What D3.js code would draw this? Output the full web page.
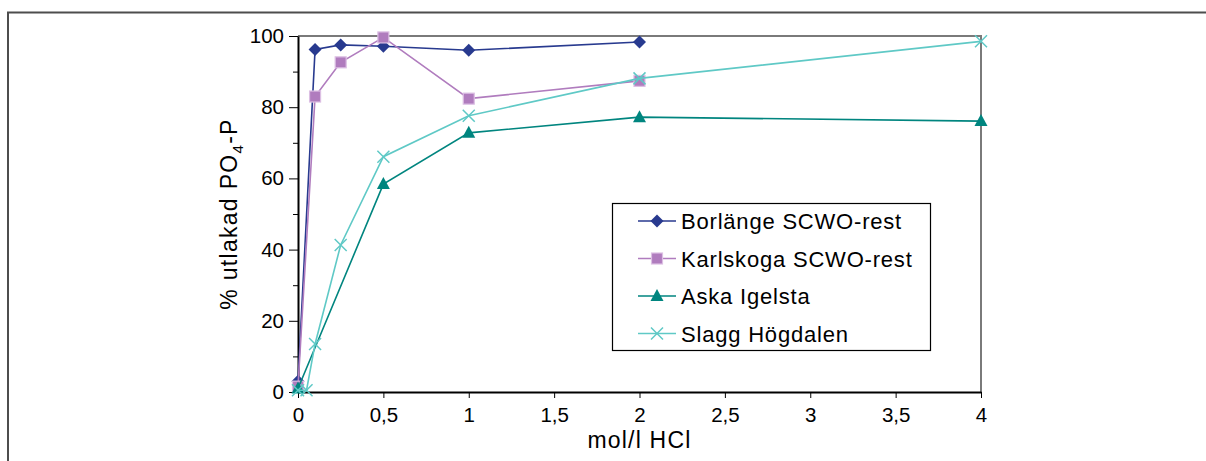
<!DOCTYPE html>
<html>
<head>
<meta charset="utf-8">
<script src="https://cdn.jsdelivr.net/npm/d3@7"></script>
<style>
  body { margin: 0; background: #fff; }
  svg { font-family: "Liberation Sans", Arial, sans-serif; }
</style>
</head>
<body>
<div id="chart"></div>
<script>
// data
var borlangeX = [0, 0.1, 0.25, 0.5, 1, 2];
var borlangeY = [3, 96.2, 97.5, 97.1, 96, 98.3];
var karlskogaX = [0, 0.1, 0.25, 0.5, 1, 2];
var karlskogaY = [1.5, 83, 92.6, 99.6, 82.4, 87.4];
var askaX = [0, 0.5, 1, 2, 4];
var askaY = [1, 58.4, 72.8, 77.2, 76.1];
var slaggX = [0, 0.05, 0.1, 0.25, 0.5, 1, 2, 4];
var slaggY = [0.5, 0.5, 13.5, 41.3, 66.1, 77.6, 88.1, 98.5];
var seriesNames = ["Borlänge SCWO-rest", "Karlskoga SCWO-rest", "Aska Igelsta", "Slagg Högdalen"];
var xTicks = [0, 0.5, 1, 1.5, 2, 2.5, 3, 3.5, 4];
var yTicks = [0, 20, 40, 60, 80, 100];

var W = 1206, H = 461;
var svg = d3.select("#chart").append("svg").attr("width", W).attr("height", H);

// outer frame
svg.append("rect")
  .attr("x", 8).attr("y", 12.5)
  .attr("width", 1400).attr("height", 1000)
  .attr("fill", "none").attr("stroke", "#4d4d4d").attr("stroke-width", 2);

var x = d3.scaleLinear().domain([0, 4]).range([298, 981]);
var y = d3.scaleLinear().domain([0, 100]).range([392, 36]);

// top and right frame of the plot
svg.append("path")
  .attr("d", "M" + x(0) + "," + y(100) + "H" + x(4) + "V" + y(0))
  .attr("fill", "none").attr("stroke", "#7a7a7a").attr("stroke-width", 2);

// y axis: major + minor ticks
svg.append("g")
  .attr("transform", "translate(" + x(0) + ",0)")
  .call(d3.axisLeft(y).tickValues(d3.range(10, 100, 20)).tickSize(5).tickFormat(""))
  .call(g => g.select(".domain").remove());
var yAxis = svg.append("g")
  .attr("transform", "translate(" + x(0) + ",0)")
  .call(d3.axisLeft(y).tickValues(yTicks).tickSize(9).tickSizeOuter(0).tickPadding(5));
yAxis.selectAll("text").style("font-size", "20.5px").attr("fill", "#000");
yAxis.select(".domain").attr("stroke-width", 2);

// x axis
var fmt = function(d) { return String(d).replace(".", ","); };
var xAxis = svg.append("g")
  .attr("transform", "translate(0," + y(0) + ")")
  .call(d3.axisBottom(x).tickValues(xTicks).tickSize(6).tickSizeOuter(0).tickFormat(fmt).tickPadding(9));
xAxis.selectAll("text").style("font-size", "20.5px").attr("fill", "#000");
xAxis.select(".domain").attr("stroke-width", 2);

// axis labels
svg.append("text")
  .attr("x", x(2)).attr("y", 448)
  .attr("text-anchor", "middle")
  .style("font-size", "23px")
  .style("letter-spacing", "1.2px")
  .text("mol/l HCl");

var yl = svg.append("text")
  .attr("transform", "translate(237," + y(50) + ") rotate(-90)")
  .attr("text-anchor", "middle")
  .style("font-size", "23px")
  .style("letter-spacing", "1.3px");
yl.append("tspan").text("% utlakad PO");
yl.append("tspan").attr("dy", 6).style("font-size", "15px").text("4");
yl.append("tspan").attr("dy", -6).text("-P");

// series
var series = [
  { name: seriesNames[0], xs: borlangeX, ys: borlangeY, color: "#283a8f", marker: "diamond" },
  { name: seriesNames[1], xs: karlskogaX, ys: karlskogaY, color: "#b07cbe", marker: "square" },
  { name: seriesNames[2], xs: askaX, ys: askaY, color: "#00857f", marker: "triangle" },
  { name: seriesNames[3], xs: slaggX, ys: slaggY, color: "#5fc9c6", marker: "cross" }
];

function drawMarker(g, s, cx, cy) {
  if (s.marker === "diamond") {
    g.append("path").attr("d", "M" + cx + "," + (cy - 6.5) + "L" + (cx + 6.5) + "," + cy + "L" + cx + "," + (cy + 6.5) + "L" + (cx - 6.5) + "," + cy + "Z")
      .attr("fill", s.color);
  } else if (s.marker === "square") {
    g.append("rect").attr("x", cx - 5.5).attr("y", cy - 5.5).attr("width", 11).attr("height", 11)
      .attr("fill", s.color).attr("stroke", "#dcbfe3").attr("stroke-width", 1.2);
  } else if (s.marker === "triangle") {
    g.append("path").attr("d", "M" + cx + "," + (cy - 7) + "L" + (cx + 6.5) + "," + (cy + 5) + "L" + (cx - 6.5) + "," + (cy + 5) + "Z")
      .attr("fill", s.color);
  } else {
    g.append("path").attr("d", "M" + (cx - 6) + "," + (cy - 6) + "L" + (cx + 6) + "," + (cy + 6) + "M" + (cx + 6) + "," + (cy - 6) + "L" + (cx - 6) + "," + (cy + 6))
      .attr("stroke", s.color).attr("stroke-width", 1.5);
  }
}

var line = d3.line().x(d => x(d[0])).y(d => y(d[1]));
series.forEach(function(s) {
  var pts = s.xs.map((v, i) => [v, s.ys[i]]);
  var g = svg.append("g");
  g.append("path").datum(pts)
    .attr("d", line).attr("fill", "none")
    .attr("stroke", s.color).attr("stroke-width", 1.6);
  pts.forEach(p => drawMarker(g, s, x(p[0]), y(p[1])));
});

// legend
var lg = svg.append("g").attr("transform", "translate(612,203)");
lg.append("rect").attr("x", 0.5).attr("y", 0.5).attr("width", 318).attr("height", 147)
  .attr("fill", "#fff").attr("stroke", "#000").attr("stroke-width", 1.2);
series.forEach(function(s, i) {
  var cy = 18 + i * 37.5;
  var g = lg.append("g");
  g.append("line").attr("x1", 26).attr("x2", 64).attr("y1", cy).attr("y2", cy)
    .attr("stroke", s.color).attr("stroke-width", 1.6);
  drawMarker(g, s, 45, cy);
  g.append("text").attr("x", 69).attr("y", cy + 8)
    .style("font-size", "22px").style("letter-spacing", "0.8px").text(s.name);
});
</script>
</body>
</html>
